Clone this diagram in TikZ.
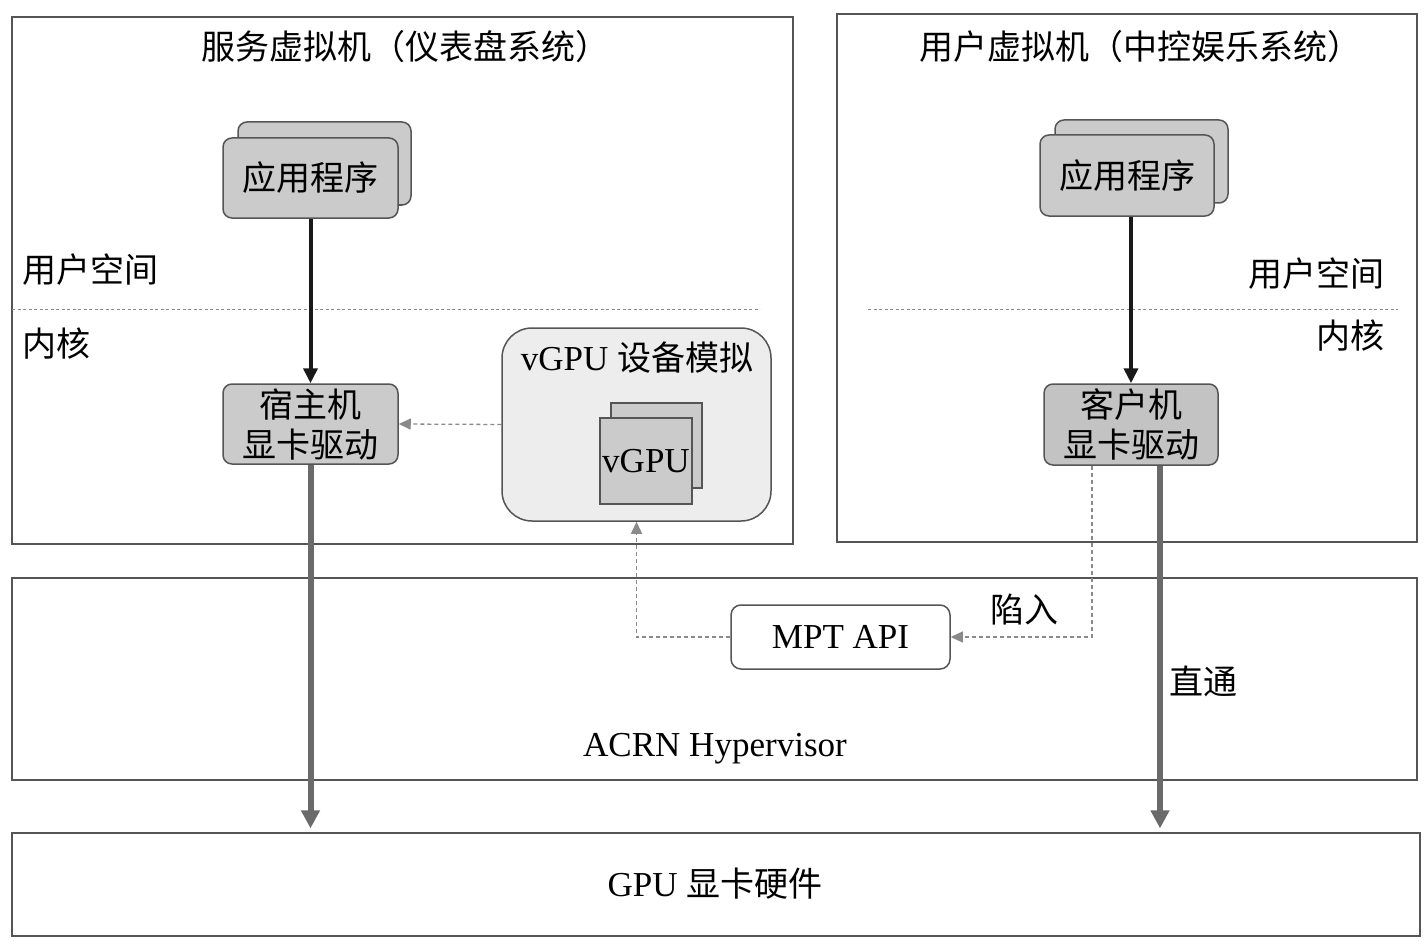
\documentclass[tikz,border=0pt]{standalone}
\usepackage{fontspec}
\setmainfont[Scale=1.03]{Liberation Serif}
\newfontfamily\cjk{Noto Sans CJK SC}
\usepackage{tikz}
\usetikzlibrary{arrows.meta}
\usetikzlibrary{positioning}
\definecolor{edgegray}{HTML}{555555}
\definecolor{boxgray}{HTML}{CBCBCB}
\definecolor{emugray}{HTML}{EDEDED}
\definecolor{thickgray}{HTML}{6A6A6A}
\definecolor{dashgray}{HTML}{8A8A8A}
\begin{document}
\begin{tikzpicture}[x=1pt,y=-1pt,
    vm box/.style={rectangle,draw=edgegray,line width=1.3pt,inner sep=0pt},
    app box/.style={rectangle,rounded corners=9pt,draw=edgegray,line width=1.5pt,fill=boxgray,inner sep=0pt},
    small box/.style={rectangle,draw=edgegray,line width=1.2pt,fill=boxgray,inner sep=0pt},
    lbl/.style={font=\fontsize{34}{40}\selectfont,inner sep=0pt,align=center},
    black arrow/.style={-{Triangle[length=15pt,width=14pt]},line width=4pt,black!90},
    gray arrow/.style={-{Triangle[length=18pt,width=18pt]},line width=6pt,thickgray,shorten >=4pt},
    dash arrow/.style={-{Triangle[length=12pt,width=11pt]},line width=1.3pt,dashgray,dash pattern=on 4pt off 3pt}]
   \useasboundingbox (0,0) rectangle (1426,944);
   \begin{scope}
     % virtual machines
     \node[vm box,minimum width=781pt,minimum height=527pt] (svm) at (402.5,280.5) {};
     \node[vm box,minimum width=580pt,minimum height=528pt] (uvm) at (1127,278) {};
     \node[lbl] (svmtitle) at (405,47) {\cjk 服务虚拟机（仪表盘系统）};
     \node[lbl] (uvmtitle) at (1140,47) {\cjk 用户虚拟机（中控娱乐系统）};
     % hypervisor and hardware
     \node[vm box,minimum width=1405pt,minimum height=202pt] (acrn) at (714.5,679) {};
     \node[lbl] (acrnlbl) at (715,749) {ACRN Hypervisor};
     \node[vm box,minimum width=1408pt,minimum height=103pt] (gpu) at (716,884.5) {};
     \node[lbl] (gpulbl) at (715,884) {GPU {\cjk 显卡硬件}};
     % user space / kernel
     \node[lbl,anchor=west] (usrL) at (22,270) {\cjk 用户空间};
     \node[lbl,anchor=west] (krnL) at (22,344) {\cjk 内核};
     \node[lbl,anchor=east] (usrR) at (1385,274) {\cjk 用户空间};
     \node[lbl,anchor=east] (krnR) at (1385,336) {\cjk 内核};
     \draw[dashgray,line width=1pt,dash pattern=on 3pt off 2.5pt] (12,309) -- (760,309);
     \draw[dashgray,line width=1pt,dash pattern=on 3pt off 2.5pt] (868,309) -- (1398,309);
     % applications
     \node[app box,minimum width=173pt,minimum height=83pt] (appLback) at (324.5,163.5) {};
     \node[app box,lbl,minimum width=175pt,minimum height=80pt] (appL) at (310.5,178) {\cjk 应用程序};
     \node[app box,minimum width=173pt,minimum height=83pt] (appRback) at (1141.5,161.5) {};
     \node[app box,lbl,minimum width=174pt,minimum height=81pt] (appR) at (1127,175.5) {\cjk 应用程序};
     % drivers
     \node[app box,lbl,minimum width=175pt,minimum height=80pt] (hostdrv) at (310.5,424) {\cjk 宿主机\\\cjk 显卡驱动};
     \node[app box,lbl,fill=boxgray!96!black,minimum width=174pt,minimum height=81pt] (guestdrv) at (1131,424.5) {\cjk 客户机\\\cjk 显卡驱动};
     % vGPU emulation
     \node[rectangle,rounded corners=30pt,draw=edgegray,line width=1.5pt,fill=emugray,minimum width=269pt,minimum height=193pt] (vgpuemu) at (636.5,424.5) {};
     \node[lbl] (vgpuemulbl) at (637,358) {vGPU {\cjk 设备模拟}};
     \node[small box,minimum width=91pt,minimum height=85pt] (vgpuback) at (656.5,445.5) {};
     \node[small box,lbl,minimum width=92pt,minimum height=86pt] (vgpu) at (646,461) {vGPU};
     % MPT
     \node[rectangle,rounded corners=10pt,draw=edgegray,line width=1.5pt,fill=white,minimum width=219pt,minimum height=64pt,lbl] (mpt) at (840.5,637) {MPT API};
     \node[lbl] (trap) at (1024,610) {\cjk 陷入};
     \node[lbl] (pass) at (1203,681) {\cjk 直通};
      \path[black arrow] (appL) edge (hostdrv);
      \path[black arrow] (appR.south -| guestdrv.north) edge (guestdrv.north);
      \path[dash arrow] (vgpuemu.west) edge (hostdrv.east);
      \draw[gray arrow] (hostdrv.south) -- (hostdrv.south |- gpu.north);
      \draw[gray arrow] ([xshift=29pt]guestdrv.south) -- ([xshift=29pt]guestdrv.south |- gpu.north);
      \draw[dash arrow] ([xshift=-39pt]guestdrv.south) |- (mpt.east);
      \draw[dash arrow] (mpt.west) -| (vgpuemu.south);
   \end{scope}
\end{tikzpicture}
\end{document}
